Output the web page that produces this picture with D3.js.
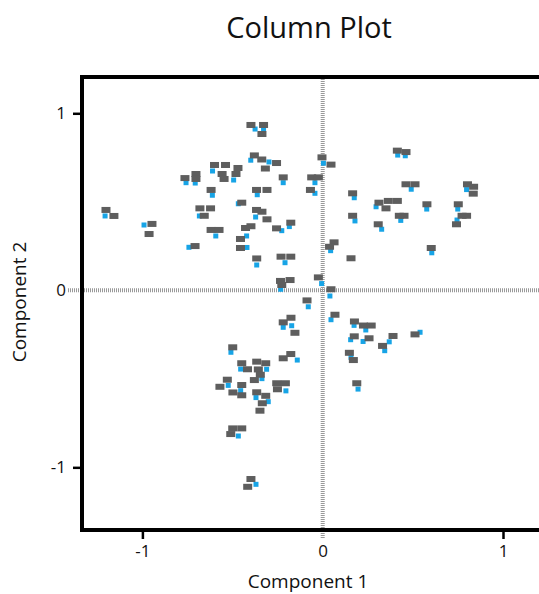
<!DOCTYPE html>
<html>
<head>
<meta charset="utf-8">
<script src="https://cdn.jsdelivr.net/npm/d3@7"></script>
<style>
  body { margin: 0; background: #fff; }
  svg { display: block; font-family: "Open Sans", sans-serif; }
</style>
</head>
<body>
<div id="chart"></div>
<script>
// Column Plot - component scores, gray label boxes + blue markers

const labelX = [-1.202,-1.158,-0.947,-0.963,-0.708,-0.764,-0.703,-0.703,-0.600,-0.539,
    -0.558,-0.547,-0.470,-0.481,-0.619,-0.449,-0.681,-0.622,-0.657,-0.619,
    -0.575,-0.428,-0.398,-0.456,-0.456,-0.366,-0.367,-0.309,-0.367,-0.337,
    -0.309,-0.398,-0.328,-0.337,-0.379,-0.338,-0.318,-0.256,-0.219,-0.256,
    -0.177,-0.231,-0.177,-0.061,-0.024,-0.068,-0.004,0.046,0.063,0.038,
    0.157,0.414,0.462,0.166,0.462,0.512,0.312,0.364,0.414,0.351,
    0.578,0.803,0.837,0.835,0.752,0.166,0.425,0.451,0.773,0.798,
    0.742,0.308,0.602,-0.234,-0.181,-0.227,-0.024,0.046,-0.087,0.068,
    0.176,0.226,0.269,0.175,0.257,0.390,0.332,0.512,0.148,0.170,
    0.189,-0.219,-0.176,-0.154,-0.499,-0.219,-0.177,-0.449,-0.417,-0.366,
    -0.316,-0.357,-0.346,-0.379,-0.529,-0.570,-0.449,-0.498,-0.449,-0.255,
    -0.207,-0.251,-0.366,-0.316,-0.335,-0.348,-0.499,-0.449,-0.510,-0.398,-0.416];
const labelY = [0.454,0.420,0.375,0.318,0.250,0.634,0.657,0.629,0.708,0.708,
    0.657,0.629,0.691,0.657,0.567,0.495,0.463,0.463,0.421,0.341,
    0.341,0.352,0.362,0.290,0.239,0.180,0.567,0.567,0.454,0.444,
    0.401,0.934,0.934,0.883,0.762,0.739,0.688,0.719,0.638,0.350,
    0.382,0.190,0.190,0.638,0.638,0.567,0.751,0.710,0.271,0.246,
    0.181,0.789,0.781,0.548,0.599,0.599,0.495,0.505,0.505,0.463,
    0.486,0.599,0.585,0.546,0.486,0.421,0.421,0.421,0.421,0.421,
    0.373,0.373,0.239,0.053,0.058,0.030,0.073,0.006,-0.057,-0.138,
    -0.176,-0.199,-0.199,-0.260,-0.271,-0.258,-0.314,-0.249,-0.353,-0.394,
    -0.525,-0.181,-0.155,-0.240,-0.322,-0.384,-0.360,-0.412,-0.446,-0.403,
    -0.412,-0.447,-0.477,-0.507,-0.505,-0.545,-0.535,-0.577,-0.593,-0.525,
    -0.525,-0.559,-0.576,-0.596,-0.638,-0.680,-0.780,-0.780,-0.812,-1.066,-1.110];

const markerX = [-1.207,-0.991,-0.742,-0.758,-0.707,-0.611,-0.494,-0.612,-0.468,-0.684,
    -0.593,-0.422,-0.420,-0.366,-0.363,-0.372,-0.375,-0.328,-0.399,-0.298,
    -0.219,-0.227,-0.185,-0.209,-0.043,-0.043,0.004,0.044,0.416,0.458,
    0.175,0.491,0.296,0.577,0.798,0.749,0.179,0.433,0.745,0.327,
    0.605,-0.233,-0.006,0.040,-0.080,0.046,0.174,0.239,0.155,0.224,
    0.369,0.344,0.540,0.157,0.196,-0.219,-0.172,-0.509,-0.141,-0.455,
    -0.311,-0.337,-0.524,-0.455,-0.204,-0.370,-0.302,-0.468,-0.370];
const markerY = [0.420,0.369,0.243,0.608,0.606,0.674,0.623,0.537,0.489,0.420,
    0.307,0.307,0.242,0.143,0.540,0.414,0.911,0.911,0.735,0.725,
    0.608,0.337,0.360,0.156,0.608,0.548,0.718,0.224,0.764,0.760,
    0.523,0.571,0.472,0.459,0.569,0.459,0.392,0.395,0.397,0.345,
    0.212,0.006,0.038,-0.032,-0.093,-0.166,-0.198,-0.224,-0.279,-0.289,
    -0.291,-0.341,-0.237,-0.379,-0.558,-0.209,-0.200,-0.350,-0.394,-0.445,
    -0.446,-0.499,-0.537,-0.567,-0.568,-0.606,-0.629,-0.823,-1.096];

const xTicks = [-1, 0, 1];
const yTicks = [-1, 0, 1];
const xDomain = [-1.335, 1.335];
const yDomain = [-1.354, 1.205];

const width = 539;
const height = 594;

const svg = d3.select('#chart').append('svg')
    .attr('width', width)
    .attr('height', height);

const x = d3.scaleLinear().domain(xDomain).range([82, 563.4]);
const y = d3.scaleLinear().domain(yDomain).range([530, 77]);

// title
svg.append('text')
    .attr('x', 309)
    .attr('y', 38)
    .attr('text-anchor', 'middle')
    .style('font-size', '29px')
    .style('fill', '#111')
    .text('Column Plot');

// zero lines (dotted)
svg.append('line')
    .attr('x1', x(0)).attr('x2', x(0))
    .attr('y1', y(yDomain[1]) + 2).attr('y2', y(yDomain[0]) + 9)
    .attr('stroke', '#999')
    .attr('stroke-width', 4)
    .attr('stroke-dasharray', '1 1');
svg.append('line')
    .attr('x1', x(xDomain[0]) - 14).attr('x2', width)
    .attr('y1', y(0)).attr('y2', y(0))
    .attr('stroke', '#999')
    .attr('stroke-width', 4)
    .attr('stroke-dasharray', '1 1');

// frame
svg.append('rect')
    .attr('x', x(xDomain[0]))
    .attr('y', y(yDomain[1]))
    .attr('width', x(xDomain[1]) - x(xDomain[0]))
    .attr('height', y(yDomain[0]) - y(yDomain[1]))
    .attr('fill', 'none')
    .attr('stroke', '#000')
    .attr('stroke-width', 4);

// axes
const xAxis = svg.append('g')
    .attr('transform', `translate(0,${y(yDomain[0]) + 2})`)
    .call(d3.axisBottom(x).tickValues(xTicks).tickSize(7).tickPadding(6).tickFormat(d => String(d)));
const yAxis = svg.append('g')
    .attr('transform', `translate(${x(xDomain[0]) - 2},0)`)
    .call(d3.axisLeft(y).tickValues(yTicks).tickSize(7).tickPadding(7).tickFormat(d => String(d)));

[xAxis, yAxis].forEach(ax => {
    ax.select('.domain').remove();
    ax.selectAll('.tick line').attr('stroke', '#000').attr('stroke-width', 2.5);
    ax.selectAll('.tick').filter(d => d === 0).select('line').remove();
    ax.selectAll('.tick text')
        .style('font-family', '"Open Sans", sans-serif')
        .style('font-size', '17px')
        .attr('fill', '#111');
});

// axis titles
svg.append('text')
    .attr('x', 308)
    .attr('y', 588)
    .attr('text-anchor', 'middle')
    .style('font-size', '19px')
    .style('fill', '#111')
    .text('Component 1');
svg.append('text')
    .attr('transform', 'translate(26,302) rotate(-90)')
    .attr('text-anchor', 'middle')
    .style('font-size', '19px')
    .style('fill', '#111')
    .text('Component 2');

// markers then label boxes
const markers = markerX.map((v, i) => ({ x: v, y: markerY[i] }));
const labels = labelX.map((v, i) => ({ x: v, y: labelY[i] }));

svg.append('g').selectAll('rect')
    .data(markers)
    .enter().append('rect')
    .attr('x', d => x(d.x) - 2.5)
    .attr('y', d => y(d.y) - 2.5)
    .attr('width', 5)
    .attr('height', 5)
    .attr('fill', '#17a4e6');

svg.append('g').selectAll('rect')
    .data(labels)
    .enter().append('rect')
    .attr('x', d => x(d.x) - 4.5)
    .attr('y', d => y(d.y) - 3)
    .attr('width', 9)
    .attr('height', 6)
    .attr('fill', '#5e5e5e');
</script>
</body>
</html>
